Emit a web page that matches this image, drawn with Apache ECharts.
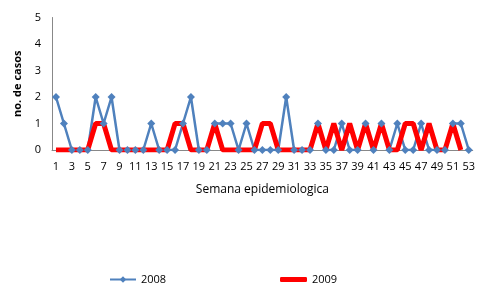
<!DOCTYPE html>
<html>
<head>
<meta charset="utf-8"/>
<title>casos por semana</title>
<style type="text/css">body,html{width:100%;height:100%;margin:0;background:#fff}#chart{width:478px;height:284px}</style>
<script src="https://cdn.jsdelivr.net/npm/echarts@6/dist/echarts.min.js"></script>
</head>
<body>
<div id="chart"></div>
<script>
	// semanas 1..53
	var semanas = [];
	for (var i = 1; i <= 53; i++) semanas.push(String(i));
	var casos2008 = [2,1,0,0,0,2,1,2,0,0, 0,0,1,0,0,0,1,2,0,0, 1,1,1,0,1,0,0,0,0,2, 0,0,0,1,0,0,1,0,0,1, 0,1,0,1,0,0,1,0,0,0, 1,1,0];
	var casos2009 = [0,0,0,0,0,1,1,0,0,0, 0,0,0,0,0,1,1,0,0,0, 1,0,0,0,0,0,1,1,0,0, 0,0,0,1,0,1,0,1,0,1, 0,1,0,0,1,1,0,1,0,0, 1,0,null];
	var yTicks = [0,1,2,3,4,5];

	var fuente = '"Open Sans", "Liberation Sans", sans-serif';
	var myChart = echarts.init(document.getElementById('chart'), null, {renderer: 'canvas'});
	var option = {
		animation: false,
		textStyle: {fontFamily: fuente},
		grid: {left: 52, right: 0, top: 17.5, height: 132.5},
		legend: [
			{
				top: 274, left: 109, padding: 0, itemWidth: 26, itemHeight: 8,
				textStyle: {fontSize: 11, color: '#000', fontFamily: fuente},
				data: ['2008']
			},
			{
				top: 274, left: 280, padding: 0, itemWidth: 27, itemHeight: 5,
				textStyle: {fontSize: 11, color: '#000', fontFamily: fuente},
				data: [{name: '2009', icon: 'roundRect'}]
			}
		],
		xAxis: {
			type: 'category',
			data: semanas,
			boundaryGap: true,
			name: 'Semana epidemiologica',
			nameLocation: 'middle',
			nameGap: 34,
			nameTextStyle: {fontSize: 12, color: '#000', fontFamily: fuente},
			axisLine: {lineStyle: {color: '#888', width: 1}},
			axisTick: {show: false},
			axisLabel: {interval: 1, fontSize: 11, color: '#000', margin: 11}
		},
		yAxis: {
			type: 'value',
			min: yTicks[0], max: yTicks[yTicks.length - 1], interval: 1,
			name: 'no. de casos',
			nameLocation: 'middle',
			nameGap: 18,
			nameTextStyle: {fontSize: 11, fontWeight: 'bold', color: '#000', fontFamily: fuente},
			axisLine: {show: true, lineStyle: {color: '#888', width: 1}},
			axisTick: {show: false},
			splitLine: {show: false},
			axisLabel: {fontSize: 11, color: '#000', margin: 11}
		},
		series: [
			{
				name: '2008', type: 'line', data: casos2008,
				symbol: 'diamond', symbolSize: 8, showAllSymbol: true,
				itemStyle: {color: '#4F81BD'},
				lineStyle: {color: '#4F81BD', width: 2.5}
			},
			{
				name: '2009', type: 'line', data: casos2009,
				symbol: 'none', z: 3,
				itemStyle: {color: '#FF0000'},
				lineStyle: {color: '#FF0000', width: 5}
			}
		]
	};
	myChart.setOption(option);
</script>
</body>
</html>
